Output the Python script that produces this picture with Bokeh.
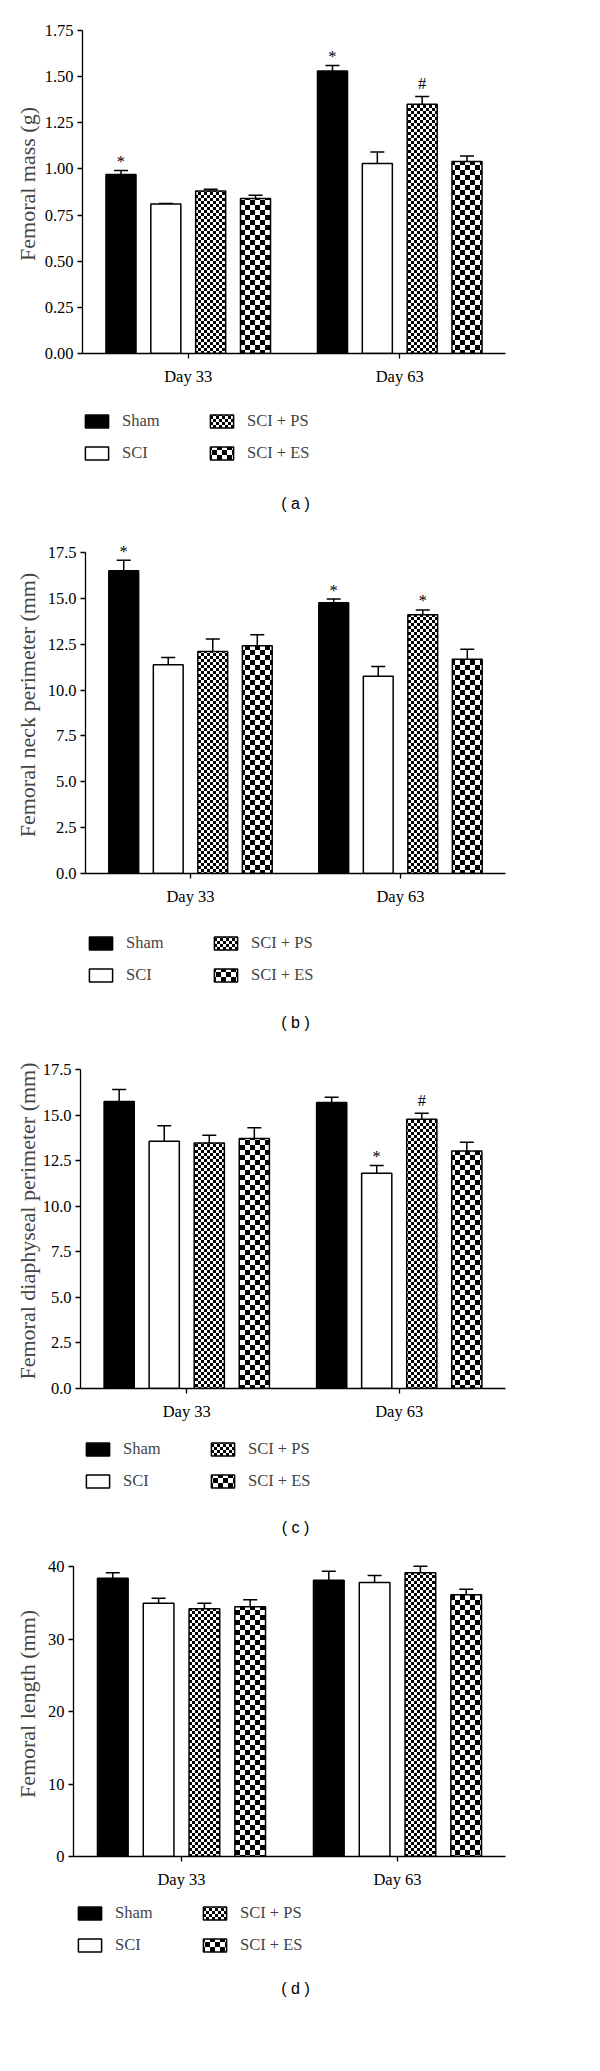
from bokeh.plotting import figure
from bokeh.layouts import column
from bokeh.models import (ColumnDataSource, FactorRange, Range1d, Legend, LegendItem, Label,
                          CanvasTexture, FixedTicker, NumeralTickFormatter)
from bokeh.transform import dodge
from bokeh.core.properties import value
from bokeh.embed import file_html
from bokeh.resources import INLINE

# ---------------- data ----------------
days = ["Day 33", "Day 63"]
groups = ["Sham", "SCI", "SCI + PS", "SCI + ES"]

# (a) Femoral mass (g)
mass_d33 = [0.97, 0.81, 0.88, 0.84]
mass_d63 = [1.53, 1.03, 1.35, 1.04]
mass_sem_d33 = [0.022, 0.003, 0.010, 0.017]
mass_sem_d63 = [0.031, 0.062, 0.043, 0.030]
mass_marks_d33 = ["*", "", "", ""]
mass_marks_d63 = ["*", "", "#", ""]
mass_ticks = [0.0, 0.25, 0.5, 0.75, 1.0, 1.25, 1.5, 1.75]

# (b) Femoral neck perimeter (mm)
neck_d33 = [16.50, 11.38, 12.10, 12.41]
neck_d63 = [14.76, 10.76, 14.10, 11.68]
neck_sem_d33 = [0.58, 0.40, 0.68, 0.60]
neck_sem_d63 = [0.20, 0.52, 0.27, 0.55]
neck_marks_d33 = ["*", "", "", ""]
neck_marks_d63 = ["*", "", "*", ""]
neck_ticks = [0.0, 2.5, 5.0, 7.5, 10.0, 12.5, 15.0, 17.5]

# (c) Femoral diaphyseal perimeter (mm)
diaph_d33 = [15.74, 13.56, 13.47, 13.71]
diaph_d63 = [15.69, 11.81, 14.77, 13.03]
diaph_sem_d33 = [0.66, 0.85, 0.42, 0.59]
diaph_sem_d63 = [0.29, 0.42, 0.33, 0.48]
diaph_marks_d33 = ["", "", "", ""]
diaph_marks_d63 = ["", "*", "#", ""]
diaph_ticks = [0.0, 2.5, 5.0, 7.5, 10.0, 12.5, 15.0, 17.5]

# (d) Femoral length (mm)
length_d33 = [38.39, 34.94, 34.16, 34.44]
length_d63 = [38.11, 37.79, 39.13, 36.09]
length_sem_d33 = [0.74, 0.69, 0.78, 0.96]
length_sem_d63 = [1.25, 0.97, 0.92, 0.78]
length_marks_d33 = ["", "", "", ""]
length_marks_d63 = ["", "", "", ""]
length_ticks = [0, 10, 20, 30, 40]

SERIF = "Liberation Serif"
SANS = "Liberation Sans"
FS = "16.5px"


def checker_texture(cell):
    code = """
const n = %d;
const c = ctx.canvas;
c.width = 2 * n;
c.height = 2 * n;
ctx.setTransform(1, 0, 0, 1, 0, 0);
ctx.clearRect(0, 0, 2 * n, 2 * n);
ctx.fillStyle = "#000000";
ctx.fillRect(0, 0, n, n);
ctx.fillRect(n, n, n, n);
""" % cell
    return CanvasTexture(code=code)


fine_checker = checker_texture(3)
coarse_checker = checker_texture(5)

styles = [
    dict(fill_color="black", line_color="black"),
    dict(fill_color="white", line_color="black"),
    dict(fill_color="white", line_color="black", hatch_pattern=value("fine"),
         hatch_extra={"fine": fine_checker}, hatch_color="black", hatch_scale=6),
    dict(fill_color="white", line_color="black", hatch_pattern=value("coarse"),
         hatch_extra={"coarse": coarse_checker}, hatch_color="black", hatch_scale=10),
]
offsets = [-0.318, -0.106, 0.106, 0.318]
BAR_W = 0.142
W = 600
X_RIGHT = 505
AX_BELOW = 45


def sources(d33, d63, s33, s63, m33, m63):
    out = []
    for i in range(len(groups)):
        top = [d33[i], d63[i]]
        sem = [s33[i], s63[i]]
        err = [t + s for t, s in zip(top, sem)]
        marks = [m33[i], m63[i]]
        yoff = [-13 if m == "#" else -9 for m in marks]
        out.append(ColumnDataSource(dict(day=days, top=top, err=err, mark=marks, yoff=yoff)))
    return out


def panel(ylabel, d33, d63, s33, s63, m33, m63, ticks, fmt, caption,
          fig_top, y0_px, ytop_px, xl_px, label_standoff, next_top,
          leg_left, leg_bottom, cap_x, cap_y):
    ymax = ticks[-1]
    axis_h = y0_px - ytop_px
    frame_h = axis_h * 1.05
    mbt = int(round(y0_px - frame_h - fig_top))
    fig_h = int(y0_px + AX_BELOW - fig_top)
    mbb = AX_BELOW
    real_frame_h = fig_h - mbt - mbb
    yend = ymax * real_frame_h / axis_h
    p = figure(width=W, height=fig_h,
               x_range=FactorRange(factors=days, range_padding=0),
               y_range=Range1d(0, yend),
               output_backend="svg", toolbar_location=None, frame_align=False,
               min_border_left=int(xl_px), min_border_right=W - X_RIGHT,
               min_border_top=mbt, min_border_bottom=mbb)
    p.outline_line_color = None
    p.xgrid.visible = False
    p.ygrid.visible = False

    srcs = sources(d33, d63, s33, s63, m33, m63)
    for i, src in enumerate(srcs):
        xs = dodge("day", offsets[i], range=p.x_range)
        p.segment(x0=xs, y0="top", x1=xs, y1="err", source=src, line_color="black", line_width=1.5)
        p.scatter(x=xs, y="err", marker="dash", size=14, line_color="black", line_width=1.5, source=src)
        p.vbar(x=xs, top="top", width=BAR_W, source=src, line_width=1.5, **styles[i])
        p.text(x=xs, y="err", text="mark", source=src, y_offset="yoff",
               text_align="center", text_baseline="alphabetic",
               text_font=value(SERIF), text_font_size=FS, text_color="black")

    ya = p.yaxis[0]
    ya.ticker = FixedTicker(ticks=ticks)
    ya.formatter = NumeralTickFormatter(format=fmt)
    ya.bounds = (0, ymax)
    ya.axis_label = ylabel
    ya.axis_label_text_font = SERIF
    ya.axis_label_text_font_style = "normal"
    ya.axis_label_text_font_size = "22px"
    ya.axis_label_standoff = label_standoff
    ya.minor_tick_line_color = None
    for ax in (p.xaxis[0], ya):
        ax.axis_line_color = "black"
        ax.axis_line_width = 1.3
        ax.major_tick_line_color = "black"
        ax.major_tick_line_width = 1.3
        ax.major_tick_in = 0
        ax.major_tick_out = 5
        ax.major_label_text_font = SERIF
        ax.major_label_text_font_size = FS
        ax.major_label_text_color = "black"
        ax.major_label_standoff = 4
    p.xaxis[0].major_label_standoff = 8

    # legend + caption panel
    lg_top = fig_top + fig_h
    lg_h = int(next_top - lg_top)
    q = figure(width=W, height=lg_h,
               x_range=FactorRange(factors=days, range_padding=0), y_range=Range1d(0, 1),
               output_backend="svg", toolbar_location=None, frame_align=False,
               x_axis_location=None, y_axis_location=None,
               min_border_left=0, min_border_right=0, min_border_top=0, min_border_bottom=0)
    q.outline_line_color = None
    q.xgrid.visible = False
    q.ygrid.visible = False
    items = []
    for i, src in enumerate(srcs):
        xs = dodge("day", offsets[i], range=q.x_range)
        r = q.vbar(x=xs, top="top", width=BAR_W, source=src, line_width=1.5, visible=False, **styles[i])
        items.append(LegendItem(label=groups[i], renderers=[r]))
    lg_bottom = lg_top + lg_h
    leg = Legend(items=items, location=(leg_left, lg_bottom - leg_bottom),
                 orientation="vertical", ncols=2,
                 glyph_width=29, glyph_height=16, label_standoff=11, spacing=12,
                 padding=0, margin=0, border_line_color=None, background_fill_alpha=0,
                 label_text_font=SERIF, label_text_font_size=FS,
                 label_width=73, label_height=20)
    q.add_layout(leg, "center")
    cap = Label(x=cap_x, y=lg_bottom - cap_y, x_units="screen", y_units="screen",
                text=caption, text_align="center", text_baseline="middle",
                text_font=SANS, text_font_size="16px", text_color="black")
    q.add_layout(cap)
    return [p, q]


figs = []
figs += panel("Femoral mass (g)", mass_d33, mass_d63, mass_sem_d33, mass_sem_d63,
              mass_marks_d33, mass_marks_d63, mass_ticks, "0.00", "( a )",
              0, 353, 30, 82, 2, 530, 82, 463, 295, 503)
figs += panel("Femoral neck perimeter (mm)", neck_d33, neck_d63, neck_sem_d33, neck_sem_d63,
              neck_marks_d33, neck_marks_d63, neck_ticks, "0.0", "( b )",
              530, 873, 552, 85, 5, 1045, 86, 985, 295, 1022)
figs += panel("Femoral diaphyseal perimeter (mm)", diaph_d33, diaph_d63, diaph_sem_d33, diaph_sem_d63,
              diaph_marks_d33, diaph_marks_d63, diaph_ticks, "0.0", "( c )",
              1045, 1388, 1069, 80, 0, 1545, 83, 1491, 295, 1527)
figs += panel("Femoral length (mm)", length_d33, length_d63, length_sem_d33, length_sem_d63,
              length_marks_d33, length_marks_d63, length_ticks, "0", "( d )",
              1545, 1856, 1566, 73, 5, 2071, 75, 1955, 295, 1988)

layout = column(*figs, spacing=0)
open("out.html", "w").write(file_html(layout, INLINE))
